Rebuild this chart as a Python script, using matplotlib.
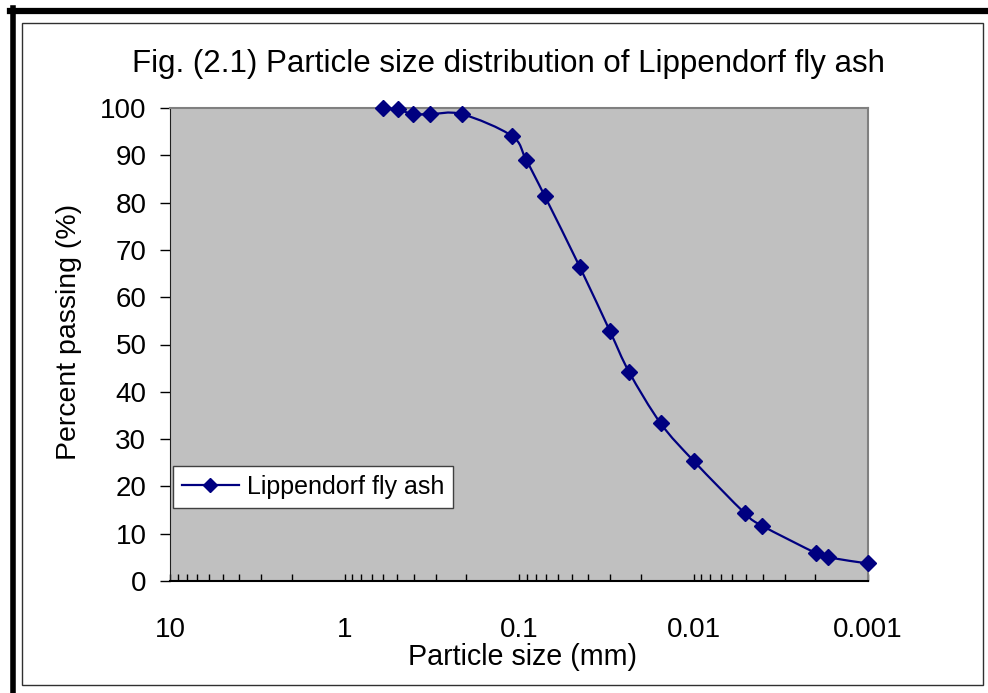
import numpy as np
import matplotlib.pyplot as plt
from matplotlib.path import Path
from matplotlib.patches import PathPatch, Rectangle
from matplotlib.lines import Line2D

plt.rcParams['font.family'] = ['Liberation Sans', 'DejaVu Sans']

# datos
size_mm = [0.602, 0.494, 0.405, 0.324, 0.212, 0.110, 0.0912, 0.0710, 0.0447,
           0.0301, 0.0234, 0.0154, 0.00993, 0.00507, 0.00405, 0.00199,
           0.00169, 0.001]
passing = [100.0, 99.7, 98.7, 98.7, 98.7, 94.1, 89.1, 81.3, 66.3,
           52.8, 44.2, 33.3, 25.3, 14.3, 11.7, 5.9, 5.0, 3.7]
x_ticks = [10, 1, 0.1, 0.01, 0.001]
x_labels = ['10', '1', '0.1', '0.01', '0.001']

NAVY = '#000080'


# curva suavizada tipo Excel (Bezier en espacio log-x)
def smooth_path(x, y):
    pts = np.column_stack([np.log10(x), y])
    n = len(pts)
    verts = [pts[0]]
    codes = [Path.MOVETO]
    for i in range(n - 1):
        p0 = pts[max(i - 1, 0)]
        p1 = pts[i]
        p2 = pts[i + 1]
        p3 = pts[min(i + 2, n - 1)]
        verts += [p1 + (p2 - p0) / 6, p2 - (p3 - p1) / 6, p2]
        codes += [Path.CURVE4] * 3
    verts = np.array(verts)
    verts[:, 0] = 10 ** verts[:, 0]
    return Path(verts, codes)


fig = plt.figure(figsize=(9.88, 6.93), dpi=100)
ax = fig.add_axes([170 / 988, 1 - 581 / 693, 698 / 988, 473 / 693])
ax.set_facecolor('#C0C0C0')

ax.add_patch(PathPatch(smooth_path(size_mm, passing), facecolor='none',
                       edgecolor=NAVY, lw=1.6, zorder=3))
ax.plot(size_mm, passing, linestyle='none', marker='D', ms=8.5,
        color=NAVY, zorder=4, clip_on=False)

ax.set_xscale('log')
ax.set_xlim(10, 0.001)
ax.set_ylim(0, 100)
ax.set_yticks(np.arange(0, 101, 10))
ax.set_xticks(x_ticks)
ax.set_xticklabels(x_labels)
ax.xaxis.set_minor_formatter(plt.NullFormatter())

ax.tick_params(axis='y', direction='out', length=7, width=1, labelsize=20, pad=10)
ax.tick_params(axis='x', which='both', direction='in', length=5, width=1,
               labelsize=20, pad=26)

for s in ['top', 'right']:
    ax.spines[s].set_color('#808080')
    ax.spines[s].set_linewidth(1.5)
ax.spines['left'].set_color('#202020')
ax.spines['bottom'].set_color('black')
ax.spines['bottom'].set_linewidth(1.5)

handle = Line2D([], [], color=NAVY, lw=1.6, marker='D', ms=7)
leg = ax.legend([handle], ['Lippendorf fly ash'], loc='upper left',
                bbox_to_anchor=(0.004, 0.243), fontsize=18, fancybox=False,
                framealpha=1, edgecolor='#404040', borderpad=0.35,
                handlelength=2.3, handletextpad=0.3, borderaxespad=0)
leg.get_frame().set_linewidth(1)

fig.text(508 / 988, 0.9076, 'Fig. (2.1) Particle size distribution of Lippendorf fly ash',
         ha='center', va='center', fontsize=22.5)
fig.text(522.5 / 988, 0.052, 'Particle size (mm)', ha='center', va='center',
         fontsize=20.6)
fig.text(69 / 988, 0.5216, 'Percent passing (%)', ha='center', va='center',
         rotation=90, fontsize=20.5)

# marcos
fig.patches.append(Rectangle((21.7 / 988, 1 - 685 / 693), (983 - 21.7) / 988,
                             (685 - 23.3) / 693, transform=fig.transFigure,
                             fill=False, edgecolor='#303030', lw=1))
fig.add_artist(Line2D([12.5 / 988, 12.5 / 988], [0, 1 - 8 / 693],
                      transform=fig.transFigure, color='black', lw=4))
fig.add_artist(Line2D([10 / 988, 1], [1 - 11 / 693, 1 - 11 / 693],
                      transform=fig.transFigure, color='black', lw=4.5))

fig.savefig('out.png', dpi=100)
